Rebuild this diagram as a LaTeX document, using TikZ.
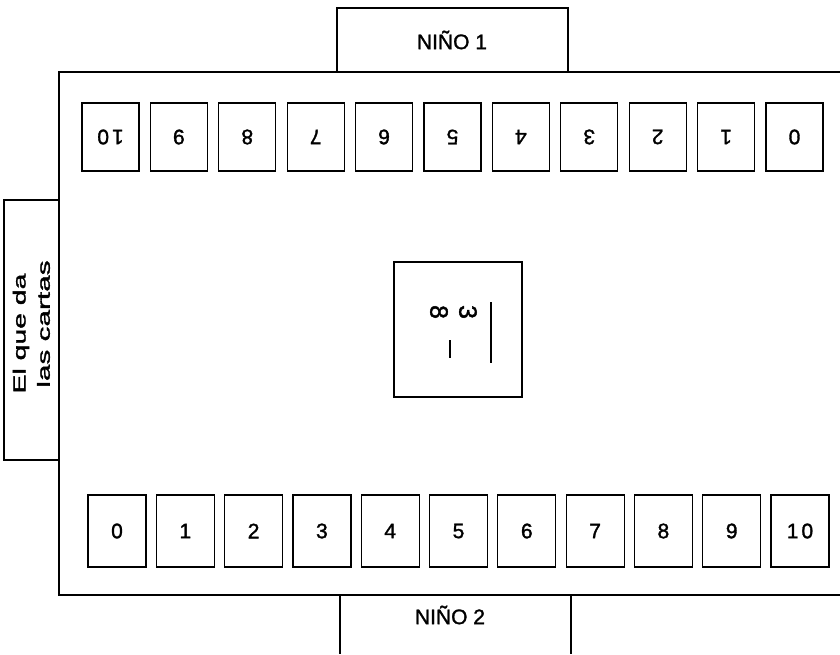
\documentclass[tikz,border=0pt]{standalone}
\usepackage{fontspec}
\setmainfont{Liberation Sans}[FakeBold=1.5]
\begin{document}
\begin{tikzpicture}[x=1pt,y=-1pt]
\useasboundingbox (0,0) rectangle (840,654);
\tikzset{
  edge/.style={line width=1.2pt, black},
  topcard/.style={draw, line width=1.2pt, minimum width=57pt, minimum height=68pt, inner sep=0pt, font=\fontsize{21}{21}\selectfont, rotate=180},
  botcard/.style={draw, line width=1.2pt, minimum width=58pt, minimum height=72pt, inner sep=0pt, font=\fontsize{21}{21}\selectfont},
  player/.style={inner sep=0pt, font=\fontsize{21}{21}\selectfont},
  dealer/.style={inner sep=0pt, rotate=90, font=\fontsize{17.5}{17.5}\selectfont},
  sidedigit/.style={inner sep=0pt, rotate=-90, font=\fontsize{25}{25}\selectfont}
}
% table (right side runs off the picture)
\draw[edge] (840,72) -- (59,72) -- (59,595) -- (840,595);
% Niño 1
\draw[edge] (337,72) |- (568,8) -- (568,72);
\node[player] (n1) at (452,40) {NIÑO 1};
% Niño 2
\draw[edge] (340,595) -- (340,654);
\draw[edge] (571,595) -- (571,654);
\node[player] (n2) at (450,615) {NIÑO 2};
% dealer
\draw[edge] (59,200) -| (4,460) -- (59,460);
\node[dealer] (d1) at (21,333.5) {\scalebox{1.62}[1]{El que da}};
\node[dealer] (d2) at (43.5,324) {\scalebox{1.7}[1]{las cartas}};
% top cards (upside down)
\node[topcard] (t0) at (110.5,137) {1\kern3pt 0};
\foreach \i in {1,...,10} {
  \pgfmathtruncatemacro{\v}{10-\i}
  \node[topcard] (t\i) at ({110.5+68.4*\i},137) {\v};
}
% bottom cards
\foreach \i in {0,...,9} {
  \node[botcard] (b\i) at ({117+68.3*\i},531) {\i};
}
\node[botcard] (b10) at (800,531) {1\kern3pt 0};
% centre card
\node[draw, line width=1.2pt, minimum width=128pt, minimum height=135pt, inner sep=0pt] (c) at (458,329.5) {};
\node[sidedigit] (m8) at (439,312) {8};
\node[sidedigit] (m3) at (468,312) {3};
\draw[line width=2pt] (450,340) -- (450,358);
\draw[line width=1.6pt] (491,302) -- (491,363);
\end{tikzpicture}
\end{document}
